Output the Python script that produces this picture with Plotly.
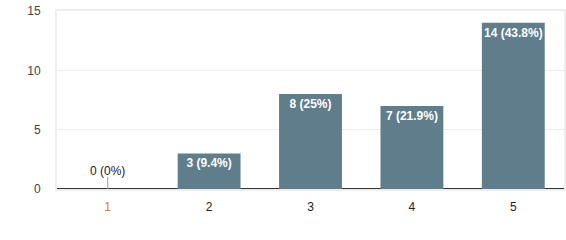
import plotly.graph_objects as go

categories = ["1", "2", "3", "4", "5"]
counts = [0, 3, 8, 7, 14]
percents = ["0%", "9.4%", "25%", "21.9%", "43.8%"]
y_ticks = [0, 5, 10, 15]

labels = [f"{c} ({p})" if c > 0 else "" for c, p in zip(counts, percents)]

fig = go.Figure()
fig.add_trace(go.Bar(
    x=categories, y=counts, text=labels, textposition="inside",
    insidetextanchor="end", textangle=0, constraintext="none",
    marker=dict(color="#607d8b", line=dict(width=0)),
    insidetextfont=dict(family="Arial", size=12, color="#ffffff", weight="bold"),
    cliponaxis=False, hoverinfo="skip",
))

# label and small leader tick for zero-valued bars
for i, (cat, c, p) in enumerate(zip(categories, counts, percents)):
    if c == 0:
        fig.add_shape(type="line", xref="x", yref="y", x0=i, x1=i, y0=0, y1=1.0,
                      line=dict(color="#999999", width=1))
        fig.add_annotation(x=i, y=0, yshift=18, text=f"{c} ({p})", showarrow=False,
                           font=dict(family="Arial", size=12, color="#222222"))

ticktext = [f'<span style="color:#d2801a">{c}</span>' if n == 0 else c
            for c, n in zip(categories, counts)]

fig.update_layout(
    width=566, height=240,
    margin=dict(l=57, r=0, t=11, b=51),
    paper_bgcolor="white", plot_bgcolor="white",
    bargap=0.38, showlegend=False,
    font=dict(family="Arial", size=12, color="#444444"),
)
fig.update_xaxes(
    type="category", showgrid=False, zeroline=False,
    showline=True, mirror=True, linecolor="#eeeeee", linewidth=2,
    tickvals=categories, ticktext=ticktext,
    ticks="", tickfont=dict(family="Arial", size=12, color="#222222"),
    ticklabelstandoff=6,
)
fig.update_yaxes(
    range=[0, 15], tickvals=y_ticks, showgrid=True, gridcolor="#ebebeb", gridwidth=1,
    zeroline=True, zerolinecolor="#333333", zerolinewidth=1.5,
    showline=True, mirror=True, linecolor="#eeeeee", linewidth=2,
    tickfont=dict(family="Arial", size=12, color="#444444"), ticklabelstandoff=12,
)
fig.write_html("out.html")
